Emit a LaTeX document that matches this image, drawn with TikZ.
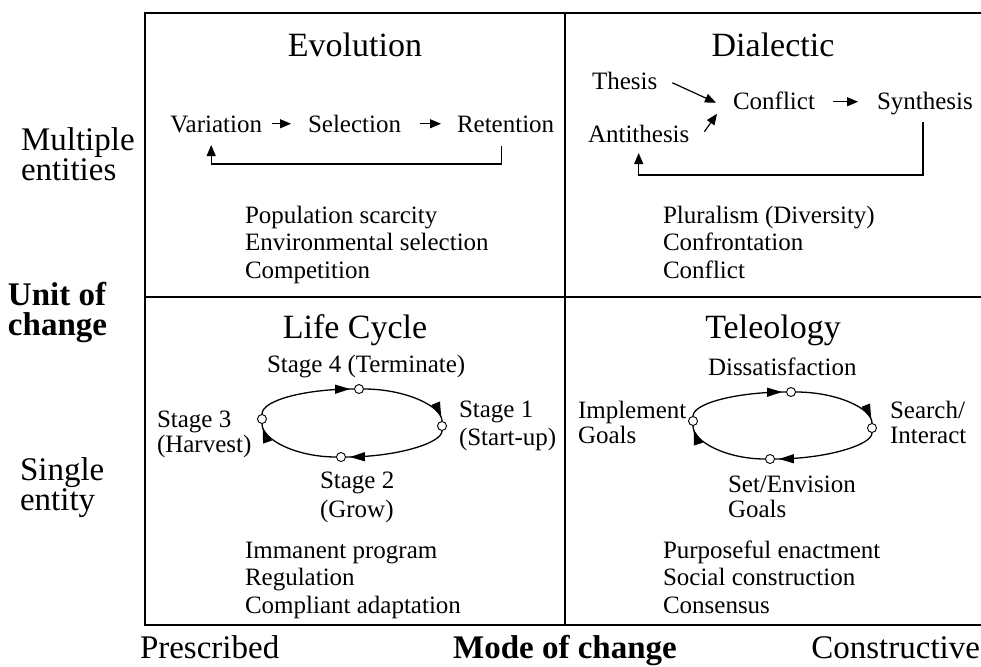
\documentclass[tikz,border=0pt]{standalone}
\usepackage{fontspec}
\setmainfont{Liberation Serif}
\usetikzlibrary{arrows.meta,calc,decorations.markings}

\begin{document}
\begin{tikzpicture}[x=1pt,y=-1pt,
  body/.style={inner sep=0pt, outer sep=0pt, font=\fontsize{25}{30}\selectfont,
               text height=16.5pt, text depth=0pt},
  title/.style={inner sep=0pt, outer sep=0pt, font=\fontsize{34}{40}\selectfont},
  axis/.style={inner sep=0pt, outer sep=0pt, font=\fontsize{33}{40}\selectfont},
  axisbold/.style={axis, font=\fontsize{33}{40}\selectfont\bfseries},
  frame/.style={line width=2pt},
  arr/.style={line width=1.2pt, -{Triangle[length=11pt,width=9pt]}},
  dot/.style={circle, draw, fill=white, line width=0.9pt, inner sep=0pt, minimum size=9pt},
  cyc/.style={line width=1.3pt, postaction={decorate, decoration={markings,
      mark=at position -4pt with {\arrow{Triangle[length=15pt,width=9pt]}}}}}
]
\useasboundingbox (0,0) rectangle (981,666);

% grid of the four quadrants
\draw[frame] (981,13) -- (145,13) -- (145,625) -- (981,625);
\draw[frame] (565,13) -- (565,625);
\draw[frame] (145,297) -- (981,297);

% axis labels
\node[axis, anchor=base west] (mult1) at (21,150) {Multiple};
\node[axis, anchor=base west] (mult2) at (21,180) {entities};
\node[axisbold, anchor=base west] (unit1) at (8,305) {Unit of};
\node[axisbold, anchor=base west] (unit2) at (8,335) {change};
\node[axis, anchor=base west] (sing1) at (20,480) {Single};
\node[axis, anchor=base west] (sing2) at (20,510) {entity};
\node[axis, anchor=base west] (presc) at (140,658) {Prescribed};
\node[axisbold, anchor=base] (mode) at (565,658) {Mode of change};
\node[axis, anchor=base east] (constr) at (980,658) {Constructive};

% titles
\node[title, anchor=base] (tevo) at (355,57) {Evolution};
\node[title, anchor=base] (tdia) at (773,57) {Dialectic};
\node[title, anchor=base] (tlc) at (355,338) {Life Cycle};
\node[title, anchor=base] (ttel) at (773,338) {Teleology};

% Evolution
\node[body, anchor=base east] (var) at (262,132) {Variation};
\node[body, anchor=base west] (sel) at (308,132) {Selection};
\node[body, anchor=base west] (ret) at (457,132) {Retention};
\draw[arr, shorten <=10pt, shorten >=17pt] (var) -- (sel);
\draw[arr, shorten <=19pt, shorten >=16pt] (sel) -- (ret);
\draw[arr] ($(ret.south)+(-4,14)$) -- ++(0,18) -| ($(var.south)+(-5,13)$);
\node[body, anchor=base west] (evo1) at (245,223) {Population scarcity};
\node[body, anchor=base west] (evo2) at (245,250) {Environmental selection};
\node[body, anchor=base west] (evo3) at (245,278) {Competition};

% Dialectic
\node[body, anchor=base west] (thesis) at (592,90) {Thesis};
\node[body, anchor=base west] (anti) at (588,142) {Antithesis};
\node[body, anchor=base west] (confl) at (733,110) {Conflict};
\node[body, anchor=base west] (synth) at (877,110) {Synthesis};
\draw[arr] ($(thesis.east)+(15,1)$) -- ($(confl.west)+(-17,1)$);
\draw[arr] ($(anti.east)+(15,-2)$) -- ($(confl.west)+(-16,12)$);
\draw[arr, shorten <=18pt, shorten >=19pt] (confl) -- (synth);
\draw[arr] ($(synth.south)+(-2,12)$) -- ++(0,53) -| ($(anti.south)+(0,11)$);
\node[body, anchor=base west] (dia1) at (663,223) {Pluralism (Diversity)};
\node[body, anchor=base west] (dia2) at (663,250) {Confrontation};
\node[body, anchor=base west] (dia3) at (663,278) {Conflict};

% Life cycle
\node[dot] (s3) at (262,419) {};
\node[dot] (s4) at (359,389) {};
\node[dot] (s1) at (442,426) {};
\node[dot] (s2) at (341,457) {};
\draw[cyc] (s3) .. controls +(0,-19) and +(-53,0) .. (s4);
\draw[cyc] (s4) .. controls +(46,0) and +(0,-20) .. (s1);
\draw[cyc] (s1) .. controls +(0,17) and +(56,0) .. (s2);
\draw[cyc] (s2) .. controls +(-44,0) and +(0,21) .. (s3);
\node[body, anchor=base west] (l4) at (267,372) {Stage 4 (Terminate)};
\node[body, anchor=base west] (l1a) at (459,417) {Stage 1};
\node[body, anchor=base west] (l1b) at (459,445) {(Start-up)};
\node[body, anchor=base west] (l3a) at (157,427) {Stage 3};
\node[body, anchor=base west] (l3b) at (157,452) {(Harvest)};
\node[body, anchor=base west] (l2a) at (320,488) {Stage 2};
\node[body, anchor=base west] (l2b) at (320,517) {(Grow)};
\node[body, anchor=base west] (lc1) at (245,558) {Immanent program};
\node[body, anchor=base west] (lc2) at (245,585) {Regulation};
\node[body, anchor=base west] (lc3) at (245,613) {Compliant adaptation};

% Teleology
\node[dot] (tl) at (693,421) {};
\node[dot] (tt) at (791,392) {};
\node[dot] (tr) at (872,428) {};
\node[dot] (tb) at (770,459) {};
\draw[cyc] (tl) .. controls +(0,-18) and +(-53,0) .. (tt);
\draw[cyc] (tt) .. controls +(45,0) and +(0,-20) .. (tr);
\draw[cyc] (tr) .. controls +(0,17) and +(56,0) .. (tb);
\draw[cyc] (tb) .. controls +(-43,0) and +(0,21) .. (tl);
\node[body, anchor=base west] (dis) at (708,375) {Dissatisfaction};
\node[body, anchor=base west] (imp1) at (578,418) {Implement};
\node[body, anchor=base west] (imp2) at (578,443) {Goals};
\node[body, anchor=base west] (srch1) at (890,418) {Search/};
\node[body, anchor=base west] (srch2) at (890,443) {Interact};
\node[body, anchor=base west] (set1) at (728,492) {Set/Envision};
\node[body, anchor=base west] (set2) at (728,517) {Goals};
\node[body, anchor=base west] (tel1) at (663,558) {Purposeful enactment};
\node[body, anchor=base west] (tel2) at (663,585) {Social construction};
\node[body, anchor=base west] (tel3) at (663,613) {Consensus};
\end{tikzpicture}
\end{document}
